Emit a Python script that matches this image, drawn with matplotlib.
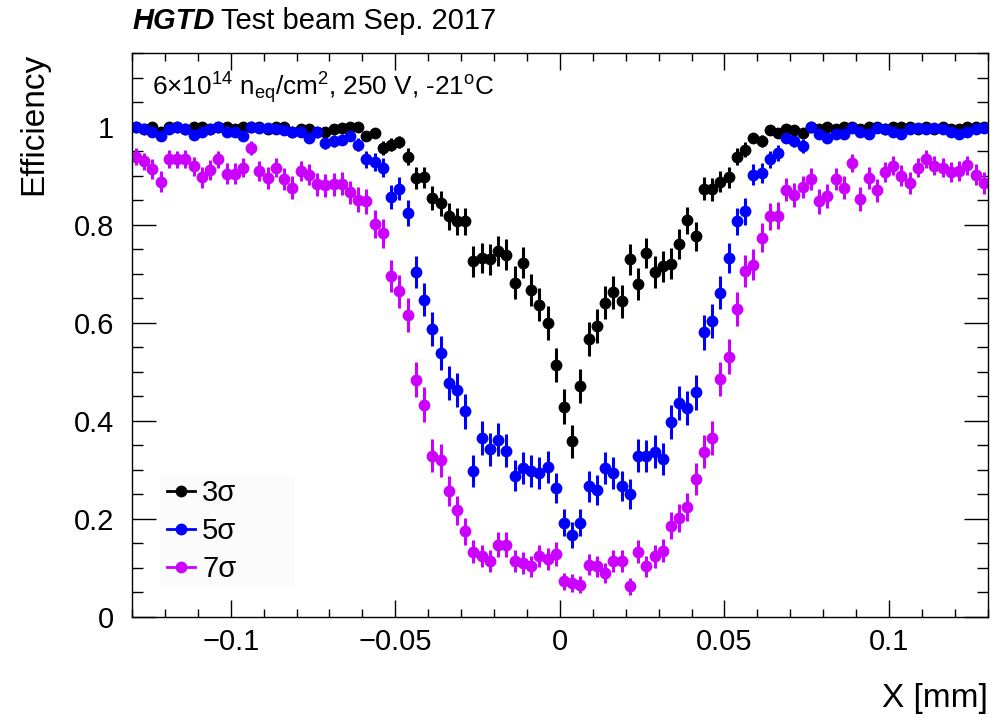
import numpy as np
import matplotlib
matplotlib.use("Agg")
import matplotlib.pyplot as plt
from matplotlib.lines import Line2D
from matplotlib.patches import Rectangle
from matplotlib.ticker import MultipleLocator, FuncFormatter

plt.rcParams['font.family'] = ['Liberation Sans', 'DejaVu Sans']
plt.rcParams['mathtext.fontset'] = 'custom'
plt.rcParams['mathtext.rm'] = 'Liberation Sans'
plt.rcParams['mathtext.it'] = 'Liberation Sans:italic'
plt.rcParams['mathtext.bf'] = 'Liberation Sans:bold'

# binning of the X position histogram
x_min, x_max = -0.13, 0.13
bin_width = 0.0025
n_events = 200  # rough tracks per bin, used for binomial error bars

eff_3sigma = [
    1.0, 0.995, 1.0, 0.99, 1.0, 1.0, 0.995, 1.0, 1.0, 0.995, 1.0, 1.0, 0.995,
    1.0, 1.0, 1.0, 0.995, 1.0, 1.0, 0.99, 0.995, 0.995, 0.99, 0.99, 0.995,
    0.997, 1.0, 1.0, 0.98, 0.987, 0.957, 0.963, 0.968, 0.939, 0.895, 0.897,
    0.854, 0.844, 0.817, 0.807, 0.807, 0.725, 0.732, 0.729, 0.746, 0.739,
    0.682, 0.722, 0.667, 0.637, 0.599, 0.514,
    0.429, 0.358, 0.471, 0.567, 0.593, 0.641, 0.662, 0.644, 0.729, 0.679,
    0.742, 0.703, 0.715, 0.720, 0.761, 0.809, 0.776, 0.873, 0.872, 0.888,
    0.897, 0.939, 0.953, 0.977, 0.970, 0.994,
    0.987, 0.995, 0.993, 0.987, 1.0, 0.995, 1.0, 0.995, 1.0, 1.0, 0.995, 1.0,
    1.0, 0.995, 1.0, 1.0, 1.0, 0.995, 1.0, 0.995, 1.0, 0.995, 0.995, 1.0,
    1.0, 1.0,
]

eff_5sigma = [
    1.0, 0.995, 0.99, 0.98, 0.995, 1.0, 0.995, 0.983, 0.99, 0.995, 1.0, 0.99,
    0.99, 0.98, 1.0, 0.997, 0.997, 0.995, 0.993, 0.99, 0.99, 0.977, 0.99,
    0.967, 0.97,
    0.973, 0.98, 0.963, 0.933, 0.927, 0.916, 0.856, 0.873, 0.824, 0.703,
    0.647, 0.587, 0.538, 0.477, 0.463, 0.419, 0.297, 0.365, 0.342, 0.361,
    0.339, 0.288, 0.303, 0.297, 0.293, 0.305, 0.263,
    0.192, 0.167, 0.192, 0.266, 0.259, 0.303, 0.293, 0.267, 0.250, 0.329,
    0.328, 0.337, 0.322, 0.397, 0.436, 0.426, 0.458, 0.580, 0.603, 0.661,
    0.732, 0.807, 0.827, 0.902, 0.905, 0.933,
    0.946, 0.977, 0.970, 0.960, 1.0, 0.984, 0.977, 0.984, 0.984, 0.997, 0.99,
    0.985, 0.997, 0.995, 0.99, 0.985, 0.995, 0.997, 0.995, 0.997, 0.995,
    0.99, 0.984, 0.99, 0.995, 0.997,
]

eff_7sigma = [
    0.939, 0.929, 0.914, 0.888, 0.934, 0.933, 0.934, 0.919, 0.897, 0.912,
    0.933, 0.904, 0.904, 0.916, 0.957, 0.909, 0.895, 0.916, 0.893, 0.875,
    0.909, 0.902, 0.882, 0.880, 0.882, 0.884, 0.866,
    0.851, 0.848, 0.802, 0.782, 0.695, 0.664, 0.616, 0.484, 0.433, 0.329,
    0.319, 0.256, 0.217, 0.174, 0.133, 0.124, 0.113, 0.147, 0.147, 0.113,
    0.110, 0.103, 0.124, 0.118, 0.128,
    0.072, 0.069, 0.065, 0.106, 0.103, 0.089, 0.113, 0.113, 0.062, 0.133,
    0.103, 0.123, 0.135, 0.186, 0.201, 0.224, 0.281, 0.337, 0.365, 0.485,
    0.531, 0.628, 0.705, 0.718, 0.773, 0.817,
    0.818, 0.871, 0.861, 0.877, 0.893, 0.848, 0.858, 0.893, 0.875, 0.926,
    0.852, 0.895, 0.870, 0.907, 0.920, 0.900, 0.886, 0.916, 0.934, 0.920,
    0.916, 0.907, 0.909, 0.921, 0.902, 0.885,
]

labels = ['3\u03c3', '5\u03c3', '7\u03c3']
colours = ['black', '#0000ff', '#cc00ff']

x = x_min + bin_width * (np.arange(len(eff_3sigma)) + 0.5)

fig = plt.figure(figsize=(10.07, 7.18), dpi=100)
ax = fig.add_axes([0.131, 0.141, 0.850, 0.785])

for eff, colour in zip([eff_3sigma, eff_5sigma, eff_7sigma], colours):
    eff = np.array(eff)
    err = np.sqrt(eff * (1 - eff) / n_events)
    ax.errorbar(x, eff, yerr=err, fmt='o', color=colour, ms=8.5,
                elinewidth=2.2, capsize=0, mew=0)

ax.set_xlim(x_min, x_max)
ax.set_ylim(0, 1.15)

ax.xaxis.set_major_locator(MultipleLocator(0.05))
ax.xaxis.set_minor_locator(MultipleLocator(0.01))
ax.yaxis.set_major_locator(MultipleLocator(0.2))
ax.yaxis.set_minor_locator(MultipleLocator(0.05))

fmt = FuncFormatter(lambda v, p: ('%g' % round(v, 4)).replace('-', '\u2212'))
ax.xaxis.set_major_formatter(fmt)
ax.yaxis.set_major_formatter(fmt)

ax.tick_params(which='both', direction='in', top=True, right=True, width=1,
               labelsize=21)
ax.tick_params(axis='x', which='major', length=12, pad=8)
ax.tick_params(axis='x', which='minor', length=6)
ax.tick_params(axis='y', which='major', length=17, pad=13)
ax.tick_params(axis='y', which='minor', length=8)
for s in ax.spines.values():
    s.set_linewidth(1)

ax.set_ylabel('Efficiency', fontsize=24, loc='top')
ax.yaxis.set_label_coords(-0.097, 1.0)
ax.text(1.0, -0.145, 'X [mm]', transform=ax.transAxes, ha='right',
        va='center', fontsize=24)

ax.text(0.023, 0.938,
        r'6$\times$10$^{14}$ n$_{\mathrm{eq}}$/cm$^{2}$, 250 V, -21$^{\mathrm{o}}$C',
        transform=ax.transAxes, ha='left', va='center', fontsize=18.8)

# legend box (ROOT style, faint fill, wider than its content)
ax.add_patch(Rectangle((0.033, 0.053), 0.157, 0.199, transform=ax.transAxes,
                       facecolor='#fbfbfb', edgecolor='none', zorder=0))
handles = [Line2D([], [], color=c, marker='o', ms=8.5, lw=2, mew=0)
           for c in colours]
ax.legend(handles, labels, loc='center left', bbox_to_anchor=(0.041, 0.1525),
          fontsize=21, frameon=False, handlelength=0.95, handletextpad=0.25,
          labelspacing=0.34, borderpad=0, borderaxespad=0)

t1 = fig.text(0.132, 0.971, 'HGTD', fontsize=21, fontweight='bold',
              fontstyle='italic', va='center', ha='left')
fig.canvas.draw()
bb = t1.get_window_extent(fig.canvas.get_renderer())
fig.text(bb.x1 / fig.bbox.width + 0.006, 0.971, 'Test beam Sep. 2017',
         fontsize=21, va='center', ha='left')

fig.savefig('out.png', dpi=100)
